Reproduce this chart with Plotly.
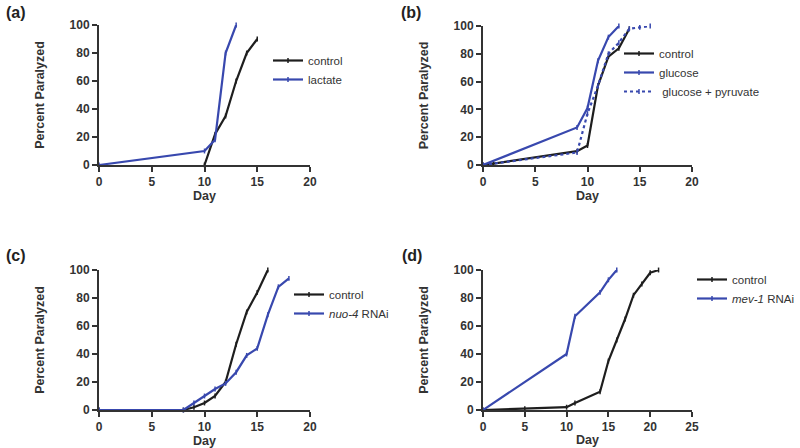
import plotly.graph_objects as go

# ---- data ----
a_control_day = [10, 11, 12, 13, 14, 15]
a_control_pct = [0, 22, 35, 60, 80, 90]
a_lactate_day = [0, 10, 11, 12, 13]
a_lactate_pct = [0, 10, 18, 80, 100]

b_control_day = [0, 1, 9, 10, 11, 12, 13, 14]
b_control_pct = [0, 1, 10, 14, 57, 78, 84, 98]
b_glucose_day = [0, 9, 10, 11, 12, 13]
b_glucose_pct = [0, 27, 41, 75, 92, 100]
b_glupyr_day = [0, 9, 10, 11, 12, 13, 14, 15, 16]
b_glupyr_pct = [0, 9, 37, 57, 80, 88, 98, 99, 100]

c_control_day = [0, 8, 9, 10, 11, 12, 13, 14, 15, 16]
c_control_pct = [0, 0, 2, 5, 10, 20, 47, 70, 84, 100]
c_nuo4_day = [0, 8, 9, 10, 11, 12, 13, 14, 15, 16, 17, 18]
c_nuo4_pct = [0, 0, 5, 10, 15, 19, 27, 39, 44, 68, 88, 94]

d_control_day = [0, 5, 10, 11, 14, 15, 16, 17, 18, 19, 20, 21]
d_control_pct = [0, 1, 2, 5, 13, 35, 50, 65, 82, 90, 98, 100]
d_mev1_day = [0, 10, 11, 14, 15, 16]
d_mev1_pct = [0, 40, 67, 84, 93, 100]

x_ticks_20 = [0, 5, 10, 15, 20]
x_ticks_25 = [0, 5, 10, 15, 20, 25]
y_ticks = [0, 20, 40, 60, 80, 100]

BLACK = "#1e1e1e"
BLUE = "#3848ae"
AX = "#333333"
FONT = "Liberation Sans, Arial, sans-serif"

fig = go.Figure()

def add(x, y, name, color, axis_n, legend, dash="solid"):
    fig.add_trace(go.Scatter(
        x=x, y=y, name=name, mode="lines+markers",
        line=dict(color=color, width=2.2, dash=dash),
        marker=dict(symbol="line-ns-open", size=3.5, line=dict(color=color, width=1.5)),
        xaxis="x" if axis_n == 1 else f"x{axis_n}",
        yaxis="y" if axis_n == 1 else f"y{axis_n}",
        legend=legend, cliponaxis=False,
    ))

add(a_control_day, a_control_pct, "control", BLACK, 1, "legend")
add(a_lactate_day, a_lactate_pct, "lactate", BLUE, 1, "legend")
add(b_control_day, b_control_pct, "control", BLACK, 2, "legend2")
add(b_glucose_day, b_glucose_pct, "glucose", BLUE, 2, "legend2")
add(b_glupyr_day, b_glupyr_pct, " glucose + pyruvate", BLUE, 2, "legend2", dash="dot")
add(c_control_day, c_control_pct, "control", BLACK, 3, "legend3")
add(c_nuo4_day, c_nuo4_pct, "<i>nuo-4</i> RNAi", BLUE, 3, "legend3")
add(d_control_day, d_control_pct, "control", BLACK, 4, "legend4")
add(d_mev1_day, d_mev1_pct, "<i>mev-1</i> RNAi", BLUE, 4, "legend4")

W, H = 800, 448
def xd(l, r): return [l / W, r / W]
def yd(t, b): return [1 - b / H, 1 - t / H]

tickfont = dict(family=FONT, size=12, color=AX, weight="bold")
titlefont = dict(family=FONT, size=12.5, color=AX, weight="bold")

def xaxis(dom, anchor, ticks, rng):
    return dict(domain=dom, anchor=anchor, range=rng, tickvals=ticks, automargin=False,
                showgrid=False, zeroline=False, showline=True, linecolor=AX, linewidth=2,
                ticks="outside", ticklen=5, tickwidth=2, tickcolor=AX,
                tickfont=tickfont, title=dict(text="Day", font=titlefont, standoff=2))

def yaxis(dom, anchor):
    return dict(domain=dom, anchor=anchor, range=[0, 100], tickvals=y_ticks, automargin=False,
                showgrid=False, zeroline=False, showline=True, linecolor=AX, linewidth=2,
                ticks="outside", ticklen=5, tickwidth=2, tickcolor=AX,
                tickfont=tickfont, title=dict(text="Percent Paralyzed", font=titlefont, standoff=22))

legfont = dict(family=FONT, size=11.5, color="#333333")
def leg(x, y):
    return dict(x=x / W, y=1 - y / H, xanchor="left", yanchor="top",
                bgcolor="rgba(0,0,0,0)", font=legfont, tracegroupgap=0,
                itemwidth=30)

fig.update_layout(
    width=W, height=H, margin=dict(l=0, r=0, t=0, b=0, autoexpand=False),
    paper_bgcolor="white", plot_bgcolor="white",
    font=dict(family=FONT, color=AX),
    xaxis=xaxis(xd(99, 310), "y", x_ticks_20, [0, 20]),
    yaxis=yaxis(yd(25, 165), "x"),
    xaxis2=xaxis(xd(483, 692), "y2", x_ticks_20, [0, 20]),
    yaxis2=yaxis(yd(26, 165), "x2"),
    xaxis3=xaxis(xd(99, 310), "y3", x_ticks_20, [0, 20]),
    yaxis3=yaxis(yd(270, 410), "x3"),
    xaxis4=xaxis(xd(483, 692), "y4", x_ticks_25, [0, 25]),
    yaxis4=yaxis(yd(270, 410), "x4"),
    legend=leg(268, 46),
    legend2=leg(619, 39),
    legend3=leg(289, 280),
    legend4=leg(692, 265),
    showlegend=True,
)

labels = [("(a)", 4, 13), ("(b)", 399, 13), ("(c)", 4, 255), ("(d)", 400, 255)]
for t, x, y in labels:
    fig.add_annotation(text=t, x=x / W, y=1 - y / H, xref="paper", yref="paper",
                       xanchor="left", yanchor="middle", showarrow=False,
                       font=dict(family=FONT, size=16, color="#222222", weight="bold"))

fig.write_html("out.html", config={"displayModeBar": False},
               post_script="document.body.style.margin='0';")
